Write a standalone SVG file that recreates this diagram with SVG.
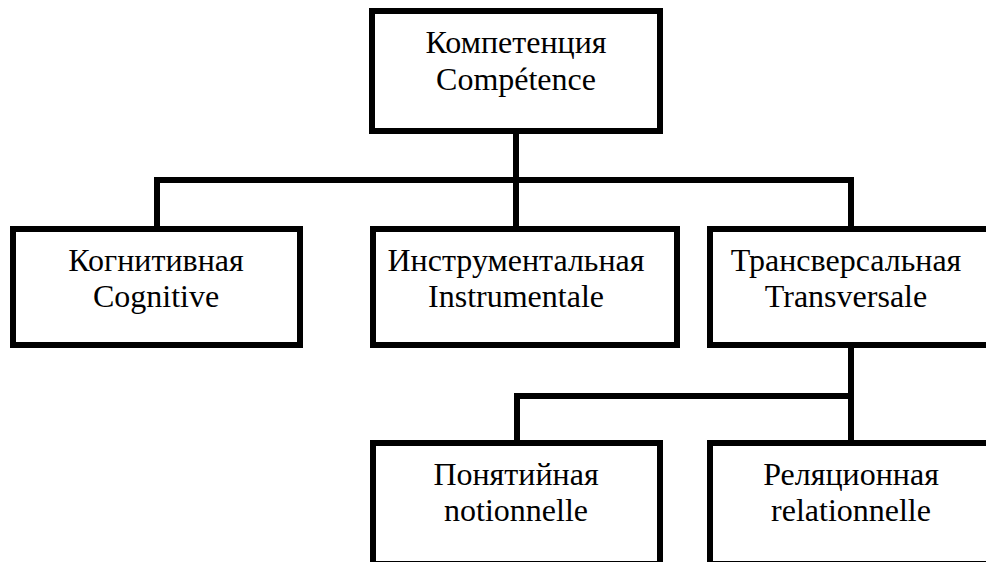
<svg xmlns="http://www.w3.org/2000/svg" width="986" height="562" viewBox="0 0 986 562">
<style>
.box{fill:#fff;stroke:#000;stroke-width:6}
.ln{fill:none;stroke:#000;stroke-width:6;stroke-linecap:square}
.t{font-family:'Liberation Serif','Times New Roman',serif;font-size:32px;fill:#000;text-anchor:middle}
</style>
<rect width="986" height="562" fill="#fff"/>
<g id="connectors">
<path class="ln" d="M516 131V180M157 229V180H851V229M516 180V229"/>
<path class="ln" d="M851 345V396H517V443M851 396V443"/>
</g>
<g id="n-competence">
<rect class="box" x="372" y="11" width="288" height="120"/>
<text class="t" x="516" y="53">Компетенция</text>
<text class="t" x="516" y="90">Compétence</text>
</g>
<g id="n-cognitive">
<rect class="box" x="13" y="229" width="287" height="116"/>
<text class="t" x="156" y="271">Когнитивная</text>
<text class="t" x="156" y="307">Cognitive</text>
</g>
<g id="n-instrumentale">
<rect class="box" x="373" y="229" width="304" height="116"/>
<text class="t" x="516" y="271">Инструментальная</text>
<text class="t" x="516" y="307">Instrumentale</text>
</g>
<g id="n-transversale">
<rect class="box" x="710" y="229" width="290" height="116"/>
<text class="t" x="846" y="271">Трансверсальная</text>
<text class="t" x="846" y="307">Transversale</text>
</g>
<g id="n-notionnelle">
<rect class="box" x="373" y="443" width="287" height="121"/>
<text class="t" x="516" y="485">Понятийная</text>
<text class="t" x="516" y="521">notionnelle</text>
</g>
<g id="n-relationnelle">
<rect class="box" x="710" y="443" width="290" height="121"/>
<text class="t" x="851" y="485">Реляционная</text>
<text class="t" x="851" y="521">relationnelle</text>
</g>
</svg>
